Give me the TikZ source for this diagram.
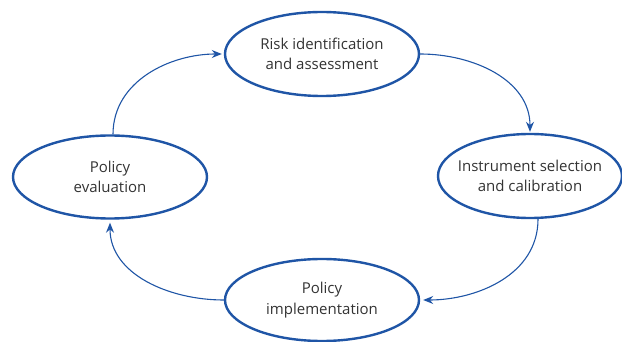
\documentclass[tikz,border=0pt]{standalone}
\usepackage{fontspec}
\setmainfont{Open Sans}
\usetikzlibrary{arrows.meta,shapes.geometric}
\definecolor{cblue}{HTML}{1F55A6}
\definecolor{ctext}{HTML}{333333}
\begin{document}
\begin{tikzpicture}[x=1pt,y=-1pt,
  stage/.style={ellipse,draw=cblue,line width=2.4pt,minimum width=194pt,minimum height=84pt,inner sep=0pt,
    align=center,text=ctext,font=\fontsize{15}{20.5}\selectfont},
  conn/.style={draw=cblue,line width=1.1pt,-{Stealth[length=10pt,width=8pt]}}]
\useasboundingbox (0,0) rectangle (622,342);
\node[stage] (risk) at (322,54) {Risk identification\\and assessment};
\node[stage,minimum width=184pt,inner xsep=-9pt] (instr) at (530,176) {Instrument selection\\and calibration};
\node[stage,minimum height=82pt] (impl) at (322,300) {Policy\\implementation};
\node[stage,minimum height=83pt] (eval) at (110,177) {Policy\\evaluation};
\draw[conn,shorten >=1pt] (risk.east) to[out=0,in=90] (instr.north);
\draw[conn,shorten >=3pt] ([xshift=8pt]instr.south) to[out=-90,in=0] (impl.east);
\draw[conn,shorten >=3pt] (impl.west) to[out=180,in=-90] (eval.south);
\draw[conn,shorten >=2pt] ([xshift=3pt]eval.north) to[out=90,in=180] (risk.west);
\end{tikzpicture}
\end{document}
